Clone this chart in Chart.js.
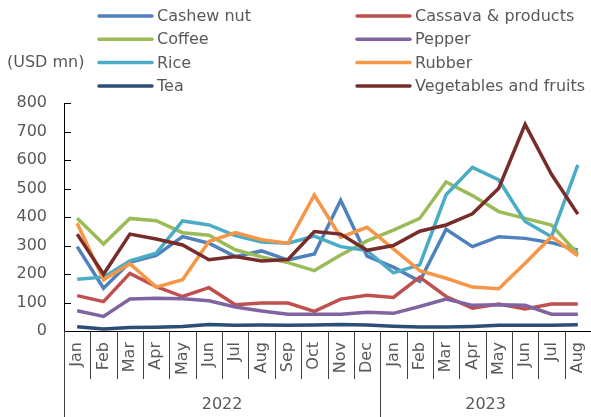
<!DOCTYPE html>
<html>
<head>
<meta charset="utf-8">
<script src="https://cdn.jsdelivr.net/npm/chart.js@4"></script>
<style>
    body { margin: 0; background: #fff; }
    #caixa { width: 591px; height: 417px; }
</style>
</head>
<body>
<div id="caixa"><canvas id="grafico" width="591" height="417"></canvas></div>
<script>
// dados (USD mn)
const meses = ["Jan", "Feb", "Mar", "Apr", "May", "Jun", "Jul", "Aug", "Sep", "Oct", "Nov", "Dec",
               "Jan", "Feb", "Mar", "Apr", "May", "Jun", "Jul", "Aug"];
const anos = ["2022", "2023"];
const mesesPorAno = [12, 8];
const ticksY = [0, 100, 200, 300, 400, 500, 600, 700, 800];

const cashew     = [296, 150, 241, 265, 331, 308, 261, 281, 249, 270, 459, 263, 224, 174, 357, 296, 331, 325, 310, 284];
const cassava    = [124, 103, 202, 156, 121, 152, 92, 98, 98, 69, 112, 125, 118, 189, 121, 80, 95, 77, 95, 95];
const coffee     = [396, 305, 395, 387, 345, 336, 285, 260, 240, 212, 267, 316, 354, 395, 523, 475, 419, 395, 372, 270];
const pepper     = [71, 51, 112, 115, 113, 106, 84, 70, 59, 59, 59, 66, 62, 86, 112, 90, 92, 90, 59, 59];
const rice       = [182, 189, 246, 273, 386, 372, 335, 312, 308, 333, 296, 282, 204, 232, 478, 574, 530, 384, 331, 583];
const rubber     = [378, 180, 236, 154, 180, 314, 345, 320, 308, 477, 329, 364, 288, 212, 185, 154, 148, 238, 331, 264];
const tea        = [15, 7, 12, 13, 16, 23, 20, 21, 20, 21, 23, 21, 17, 14, 14, 16, 20, 20, 20, 22];
const vegetables = [340, 199, 340, 323, 302, 250, 261, 246, 251, 349, 340, 283, 300, 350, 372, 411, 501, 725, 550, 410];

const series = [
    { nome: "Cashew nut", cor: "#4f81bd", valores: cashew },
    { nome: "Cassava & products", cor: "#c0504d", valores: cassava },
    { nome: "Coffee", cor: "#9bbb59", valores: coffee },
    { nome: "Pepper", cor: "#8064a2", valores: pepper },
    { nome: "Rice", cor: "#4bacc6", valores: rice },
    { nome: "Rubber", cor: "#f79646", valores: rubber },
    { nome: "Tea", cor: "#2c4d75", valores: tea },
    { nome: "Vegetables and fruits", cor: "#772c2a", valores: vegetables }
];

const corTexto = "#595959";
const fonte = "'DejaVu Sans', Verdana, sans-serif";

// legenda em duas colunas, eixos de ano e marcas
const extras = {
    id: "extras",
    afterDraw(chart) {
        const ctx = chart.ctx;
        const x = chart.scales.x;
        const y = chart.scales.y;
        const area = chart.chartArea;
        ctx.save();

        // legenda
        ctx.font = "16px " + fonte;
        ctx.textBaseline = "middle";
        ctx.textAlign = "left";
        chart.data.datasets.forEach((ds, i) => {
            const col = i % 2;
            const lin = Math.floor(i / 2);
            const lx = col == 0 ? 99 : 357;
            const ly = 16 + lin * 23.3;
            ctx.strokeStyle = ds.borderColor;
            ctx.lineWidth = 3.5;
            ctx.lineCap = "round";
            ctx.beginPath();
            ctx.moveTo(lx, ly);
            ctx.lineTo(lx + 53, ly);
            ctx.stroke();
            ctx.fillStyle = corTexto;
            ctx.fillText(ds.label, lx + 58, ly + 1);
        });
        ctx.fillText("(USD mn)", 7, 63);

        // marcas do eixo y (para dentro)
        ctx.strokeStyle = "#000";
        ctx.lineWidth = 1;
        ctx.lineCap = "butt";
        y.ticks.forEach(t => {
            const py = Math.round(y.getPixelForValue(t.value)) + 0.5;
            ctx.beginPath();
            ctx.moveTo(area.left, py);
            ctx.lineTo(area.left + 7, py);
            ctx.stroke();
        });

        // separadores dos meses
        ctx.strokeStyle = "#404040";
        for (let i = 1; i < meses.length; i++) {
            const px = Math.round((x.getPixelForValue(i - 1) + x.getPixelForValue(i)) / 2) + 0.5;
            ctx.beginPath();
            ctx.moveTo(px, area.bottom);
            ctx.lineTo(px, area.bottom + 48);
            ctx.stroke();
        }

        // separadores e rótulos dos anos
        let inicio = 0;
        ctx.font = "16px " + fonte;
        ctx.textAlign = "center";
        ctx.fillStyle = corTexto;
        const passo = x.getPixelForValue(1) - x.getPixelForValue(0);
        for (let a = 0; a < anos.length; a++) {
            const fim = inicio + mesesPorAno[a];
            const x0 = x.getPixelForValue(inicio) - passo / 2;
            const x1 = x.getPixelForValue(fim - 1) + passo / 2;
            ctx.beginPath();
            ctx.moveTo(Math.round(x0) + 0.5, area.bottom);
            ctx.lineTo(Math.round(x0) + 0.5, chart.height);
            ctx.stroke();
            ctx.fillText(anos[a], (x0 + x1) / 2, 405);
            inicio = fim;
        }
        ctx.restore();
    }
};

const contexto = document.getElementById("grafico").getContext("2d");

const grafico = new Chart(contexto, {
    type: "line",
    data: {
        labels: meses,
        datasets: series.map((s, i) => ({
            label: s.nome,
            data: s.valores,
            borderColor: s.cor,
            backgroundColor: s.cor,
            borderWidth: 3.5,
            pointRadius: 0,
            tension: 0,
            order: series.length - i
        }))
    },
    options: {
        responsive: false,
        animation: false,
        layout: { padding: { top: 103, right: -2, left: 0, bottom: 0 } },
        plugins: {
            legend: { display: false },
            tooltip: { enabled: false }
        },
        scales: {
            x: {
                offset: true,
                grid: { display: false, drawTicks: false },
                border: { display: true, color: "#000", width: 1 },
                ticks: {
                    minRotation: 90,
                    maxRotation: 90,
                    autoSkip: false,
                    padding: 11,
                    color: corTexto,
                    font: { family: fonte, size: 16 }
                },
                afterFit(scale) {
                    scale.height = 86;
                    scale.paddingLeft = 0;
                    scale.paddingRight = 0;
                }
            },
            y: {
                min: 0,
                max: 800,
                afterBuildTicks(scale) { scale.ticks = ticksY.map(v => ({ value: v })); },
                grid: { display: false, drawTicks: false },
                border: { display: true, color: "#000", width: 1 },
                ticks: {
                    padding: 17,
                    color: corTexto,
                    font: { family: fonte, size: 16 }
                },
                afterFit(scale) {
                    scale.width = 64;
                    scale.paddingTop = 0;
                    scale.paddingBottom = 0;
                }
            }
        }
    },
    plugins: [extras]
});
</script>
</body>
</html>
